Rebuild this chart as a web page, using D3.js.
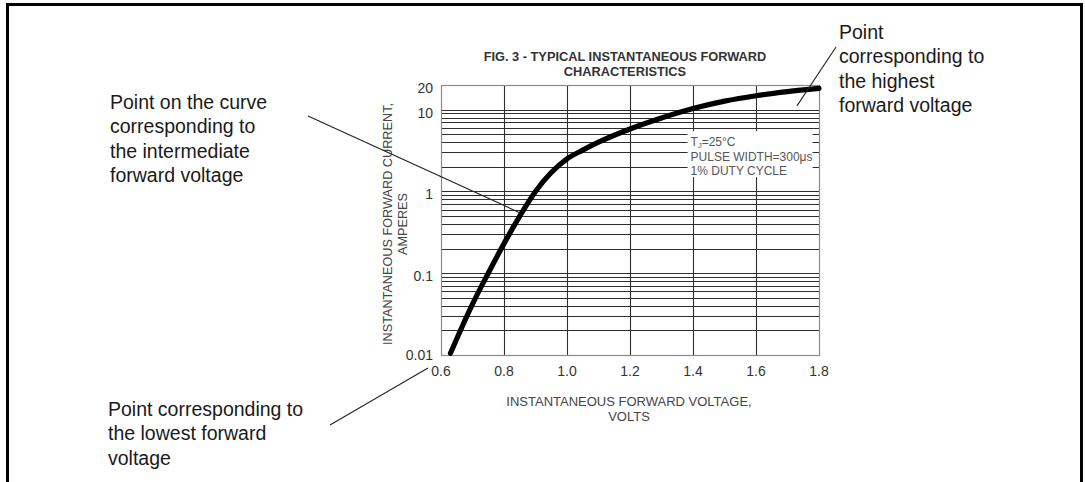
<!DOCTYPE html>
<html>
<head>
<meta charset="utf-8">
<script src="https://cdn.jsdelivr.net/npm/d3@7"></script>
<style>
  html, body { margin: 0; padding: 0; background: #fff; }
  svg { display: block; }
  text { font-family: "Liberation Sans", Arial, sans-serif; }
</style>
</head>
<body>
<svg id="chart" width="1085" height="482"></svg>
<script>
// ---------------- data ----------------
const voltage = [0.63, 0.70, 0.75, 0.80, 0.85, 0.90, 0.95, 1.00, 1.05, 1.10, 1.20, 1.30, 1.40, 1.50, 1.60, 1.70, 1.80];
const current = [0.0105, 0.042, 0.10, 0.23, 0.50, 1.0, 1.7, 2.5, 3.2, 4.0, 5.8, 7.9, 10.3, 12.7, 14.8, 16.6, 18.2];
const xTicks = [0.6, 0.8, 1.0, 1.2, 1.4, 1.6, 1.8];
const xTickLabels = ["0.6", "0.8", "1.0", "1.2", "1.4", "1.6", "1.8"];
const yTicks = [0.01, 0.1, 1, 10, 20];
const yTickLabels = ["0.01", "0.1", "1", "10", "20"];
const titleLines = ["FIG. 3 - TYPICAL INSTANTANEOUS FORWARD", "CHARACTERISTICS"];
const xTitleLines = ["INSTANTANEOUS FORWARD VOLTAGE,", "VOLTS"];
const yTitleLines = ["INSTANTANEOUS FORWARD CURRENT,", "AMPERES"];
const conditions = ["PULSE WIDTH=300\u03bcs", "1% DUTY CYCLE"];

// annotations: label lines, and the pointer end in data space
const annoIntermediate = ["Point on the curve", "corresponding to", "the intermediate", "forward voltage"];
const annoLowest = ["Point corresponding to", "the lowest forward", "voltage"];
const annoHighest = ["Point", "corresponding to", "the highest", "forward voltage"];

// ---------------- layout ----------------
const svg = d3.select("#chart");
const W = 1085, H = 482;
const plot = { left: 441, right: 819, top: 85, bottom: 355 };

const x = d3.scaleLinear().domain([0.6, 1.8]).range([plot.left, plot.right]);
const y = d3.scaleLog().domain([0.01, 20]).range([plot.bottom, plot.top]);

// outer frame (open at bottom)
svg.append("path")
  .attr("d", `M7.5,${H + 5} L7.5,4.5 L1081.5,4.5 L1081.5,${H + 5}`)
  .attr("fill", "none").attr("stroke", "#000").attr("stroke-width", 3);

const g = svg.append("g");

// horizontal grid (log minor ticks)
const yGrid = y.ticks().filter(v => v > 0.01 && v < 20);
g.append("g").selectAll("line").data(yGrid).join("line")
  .attr("x1", plot.left).attr("x2", plot.right)
  .attr("y1", d => Math.round(y(d)) + 0.5).attr("y2", d => Math.round(y(d)) + 0.5)
  .attr("stroke", "#2e2e2e").attr("stroke-width", 1.1);

// vertical grid
const xGrid = xTicks.filter(v => v > 0.6 && v < 1.8);
g.append("g").selectAll("line").data(xGrid).join("line")
  .attr("x1", d => Math.round(x(d)) + 0.5).attr("x2", d => Math.round(x(d)) + 0.5)
  .attr("y1", plot.top).attr("y2", plot.bottom)
  .attr("stroke", "#2e2e2e").attr("stroke-width", 1.1);

// plot frame
g.append("rect")
  .attr("x", plot.left + 0.5).attr("y", plot.top + 0.5)
  .attr("width", plot.right - plot.left).attr("height", plot.bottom - plot.top)
  .attr("fill", "none").attr("stroke", "#8a8a8a").attr("stroke-width", 1.2);

// conditions box (white patch over grid)
const boxX = x(1.3827), boxY = y(5.6) + 1;
g.append("rect")
  .attr("x", boxX).attr("y", boxY)
  .attr("width", 125).attr("height", 46)
  .attr("fill", "#fff");
const condG = g.append("g").attr("fill", "#555").attr("font-size", 12);
const tj = condG.append("text").attr("x", boxX + 3).attr("y", boxY + 15);
tj.append("tspan").text("T");
tj.append("tspan").attr("font-size", 7.5).attr("dy", 2).text("J");
tj.append("tspan").attr("dy", -2).text("=25\u00b0C");
condG.selectAll("text.c").data(conditions).join("text").attr("class", "c")
  .attr("x", boxX + 3).attr("y", (d, i) => boxY + 29.5 + i * 14.3).text(d => d);

// curve
const line = d3.line()
  .x((d, i) => x(voltage[i]))
  .y((d, i) => y(current[i]))
  .curve(d3.curveMonotoneX);
g.append("path").datum(current)
  .attr("d", line)
  .attr("fill", "none").attr("stroke", "#000")
  .attr("stroke-width", 5.2).attr("stroke-linecap", "round").attr("stroke-linejoin", "round");

// tick labels
g.append("g").selectAll("text").data(xTicks).join("text")
  .attr("x", d => x(d)).attr("y", plot.bottom + 21)
  .attr("text-anchor", "middle").attr("font-size", 14).attr("fill", "#333")
  .text((d, i) => xTickLabels[i]);
g.append("g").selectAll("text").data(yTicks).join("text")
  .attr("x", plot.left - 8).attr("y", d => y(d) + (d === 0.01 ? 5 : 8))
  .attr("text-anchor", "end").attr("font-size", 14).attr("fill", "#333")
  .text((d, i) => yTickLabels[i]);

// titles
svg.append("g").selectAll("text").data(titleLines).join("text")
  .attr("x", 625).attr("y", (d, i) => 61 + i * 15)
  .attr("text-anchor", "middle").attr("font-size", 12.8).attr("font-weight", "bold").attr("fill", "#333")
  .text(d => d);
svg.append("g").selectAll("text").data(xTitleLines).join("text")
  .attr("x", 629).attr("y", (d, i) => plot.bottom + 51 + i * 15)
  .attr("text-anchor", "middle").attr("font-size", 13).attr("fill", "#444")
  .text(d => d);
const ycy = (plot.top + plot.bottom) / 2 + 4;
svg.append("g").selectAll("text").data(yTitleLines).join("text")
  .attr("transform", (d, i) => `translate(${392 + i * 15},${ycy}) rotate(-90)`)
  .attr("text-anchor", "middle").attr("font-size", 12.7).attr("fill", "#444")
  .text(d => d);

// annotations
const annotations = [
  { lines: annoIntermediate, tx: 110, ty: 109, from: [308, 116], to: [0.85, 0.55], off: [0, 0] },
  { lines: annoLowest, tx: 108, ty: 416, from: [330, 425], to: [0.6, 0.01], off: [-13, 13] },
  { lines: annoHighest, tx: 839, ty: 39, from: [836, 47], to: [1.73, 11.1], off: [0, 0] }
];
const ag = svg.append("g");
annotations.forEach(a => {
  ag.append("line")
    .attr("x1", a.from[0]).attr("y1", a.from[1])
    .attr("x2", x(a.to[0]) + a.off[0]).attr("y2", y(a.to[1]) + a.off[1])
    .attr("stroke", "#222").attr("stroke-width", 1.1);
  ag.append("g").selectAll("text").data(a.lines).join("text")
    .attr("x", a.tx).attr("y", (d, i) => a.ty + i * 24.3)
    .attr("font-size", 19.5).attr("fill", "#1a1a1a")
    .text(d => d);
});
</script>
</body>
</html>
